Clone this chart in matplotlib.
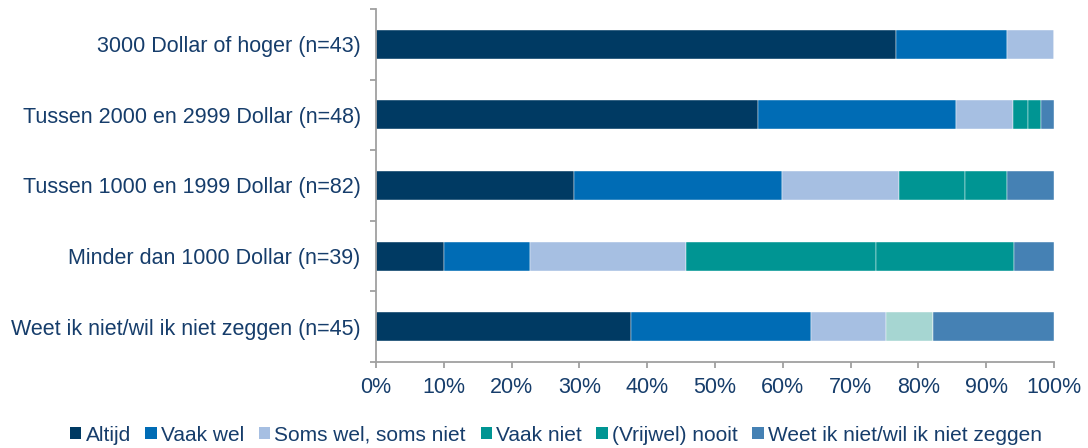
import numpy as np
import matplotlib.pyplot as plt
from matplotlib.patches import Patch

plt.rcParams['font.family'] = ['Liberation Sans', 'DejaVu Sans']

# --- Data (percentages per income group) ---
groups = ['3000 Dollar of hoger (n=43)',
          'Tussen 2000 en 2999 Dollar (n=48)',
          'Tussen 1000 en 1999 Dollar (n=82)',
          'Minder dan 1000 Dollar (n=39)',
          'Weet ik niet/wil ik niet zeggen (n=45)']
answers = ['Altijd', 'Vaak wel', 'Soms wel, soms niet', 'Vaak niet',
           '(Vrijwel) nooit', 'Weet ik niet/wil ik niet zeggen']

altijd = [76.7, 56.3, 29.2, 10.0, 37.6]
vaak_wel = [16.3, 29.2, 30.7, 12.7, 26.6]
soms = [7.0, 8.4, 17.2, 23.0, 11.0]
vaak_niet = [0.0, 2.2, 9.8, 28.0, 6.9]
nooit = [0.0, 2.0, 6.1, 20.4, 0.0]
weet_niet = [0.0, 1.9, 7.0, 5.9, 17.9]

colors = ['#003a63', '#006cb5', '#a6bfe2', '#009593', '#009593', '#4581b4']
# last group has the 'Vaak niet' segment in a lighter teal
vaak_niet_colors = ['#009593', '#009593', '#009593', '#009593', '#a6d6d2']

text_color = '#163d6b'
axis_color = '#a0a0a0'

series = [altijd, vaak_wel, soms, vaak_niet, nooit, weet_niet]

fig = plt.figure(figsize=(10.88, 4.48), dpi=100)
ax = fig.add_axes([0.3456, 0.192, 0.6232, 0.788])

y = np.arange(len(groups))
left = np.zeros(len(groups))
for i, vals in enumerate(series):
    c = vaak_niet_colors if answers[i] == 'Vaak niet' else colors[i]
    ax.barh(y, vals, left=left, height=0.41, color=c,
            edgecolor='#ffffff', linewidth=0.3)
    left += np.array(vals)

ax.set_xlim(0, 100)
ax.set_ylim(len(groups) - 0.5, -0.5)

ax.set_xticks(np.arange(0, 101, 10))
ax.set_xticklabels([f'{v}%' for v in range(0, 101, 10)])
ax.set_yticks(y)
ax.set_yticklabels(groups)
ax.set_yticks(np.arange(-0.5, len(groups)), minor=True)

ax.tick_params(axis='y', which='major', length=0, pad=11,
               labelsize=15.5, labelcolor=text_color)
ax.tick_params(axis='y', which='minor', length=4.5, width=1.3,
               color=axis_color)
ax.tick_params(axis='x', length=4.5, width=1.3, color=axis_color,
               labelsize=15.5, labelcolor=text_color, pad=6)

for s in ['top', 'right']:
    ax.spines[s].set_visible(False)
for s in ['left', 'bottom']:
    ax.spines[s].set_color(axis_color)
    ax.spines[s].set_linewidth(1.3)

handles = [Patch(facecolor=colors[i], edgecolor='none', label=answers[i])
           for i in range(len(answers))]
fig.legend(handles=handles, loc='center', bbox_to_anchor=(0.511, 0.029),
           ncol=6, frameon=False, fontsize=15, labelcolor=text_color,
           handlelength=0.55, handleheight=0.55, handletextpad=0.2,
           columnspacing=0.7, borderpad=0)

plt.savefig('out.png', dpi=100)
